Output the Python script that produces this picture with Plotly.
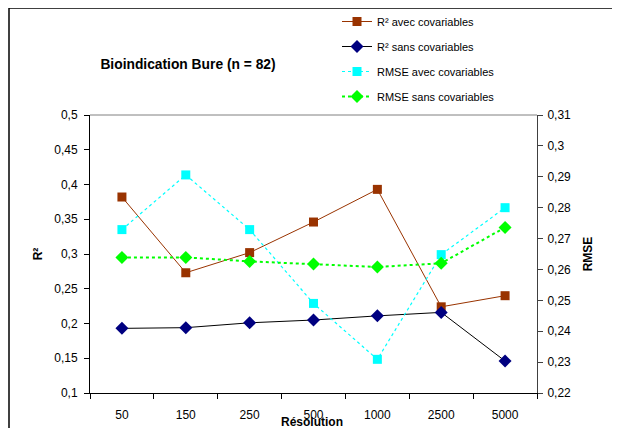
import plotly.graph_objects as go

resolutions = ["50", "150", "250", "500", "1000", "2500", "5000"]
r2_avec = [0.382, 0.273, 0.302, 0.346, 0.393, 0.224, 0.240]
r2_sans = [0.193, 0.194, 0.201, 0.205, 0.211, 0.216, 0.146]
rmse_avec = [0.2729, 0.2906, 0.2729, 0.249, 0.2309, 0.2648, 0.280]
rmse_sans = [0.2639, 0.2639, 0.2626, 0.2618, 0.2608, 0.2620, 0.2736]

FONT = "Liberation Sans, Arial, sans-serif"
W, H = 620, 428
OFF = 8  # page body margin offset
# plot area in screen (reference) pixels
SL, SR, ST, SB = 90, 537, 115, 393
L, R, T, B = SL - OFF, SR - OFF, ST - OFF, SB - OFF

def px(x):
    return (x - SL) / (SR - SL)

def py(y):
    return (SB - y) / (SB - ST)

fig = go.Figure()
fig.add_trace(go.Scatter(x=resolutions, y=r2_avec, name="R² avec covariables",
                         mode="lines+markers", legendgroup="a",
                         line=dict(color="#993300", width=1),
                         marker=dict(symbol="square", size=9, color="#993300")))
fig.add_trace(go.Scatter(x=resolutions, y=r2_sans, name="R² sans covariables",
                         mode="lines+markers", legendgroup="b",
                         line=dict(color="#000000", width=1),
                         marker=dict(symbol="diamond", size=10, color="#000080")))
fig.add_trace(go.Scatter(x=resolutions, y=rmse_avec, name="RMSE avec covariables",
                         mode="lines+markers", yaxis="y2", legendgroup="c",
                         line=dict(color="#00FFFF", width=1.2, dash="dot"),
                         marker=dict(symbol="square", size=9, color="#00FFFF")))
fig.add_trace(go.Scatter(x=resolutions, y=rmse_sans, name="RMSE sans covariables",
                         mode="lines+markers", yaxis="y2", legendgroup="d",
                         line=dict(color="#00FF00", width=2, dash="3px,3px"),
                         marker=dict(symbol="diamond", size=10, color="#00FF00")))

tickfont = dict(family=FONT, size=12, color="#000000")
fig.update_layout(
    width=W, height=H,
    margin=dict(l=L, r=W - R, t=T, b=H - B, pad=0, autoexpand=False),
    paper_bgcolor="white", plot_bgcolor="white",
    separators=", ",
    font=dict(family=FONT, size=12, color="#000000"),
    showlegend=True,
    legend=dict(x=px(337), y=py(7), xanchor="left", yanchor="top",
                font=dict(family=FONT, size=11), tracegroupgap=6,
                bgcolor="rgba(0,0,0,0)", itemwidth=30),
    xaxis=dict(type="category", range=[-0.5, 6.5], tickson="boundaries",
               ticks="outside", ticklen=5, tickcolor="#000", showline=True,
               linecolor="#000", linewidth=1, showgrid=False, zeroline=False,
               tickfont=tickfont, ticklabelstandoff=11),
    yaxis=dict(range=[0.1, 0.5], dtick=0.05, tick0=0.1, ticks="outside",
               ticklen=5, tickcolor="#000", showline=True, linecolor="#000",
               showgrid=False, zeroline=False, tickfont=tickfont,
               ticklabelstandoff=4,
               title=dict(text="<b>R²</b>", standoff=9,
                          font=dict(family=FONT, size=12))),
    yaxis2=dict(range=[0.22, 0.31], dtick=0.01, tick0=0.22, overlaying="y",
                side="right", ticks="outside", ticklen=5, tickcolor="#404040",
                showline=True, linecolor="#404040", showgrid=False,
                zeroline=False, tickfont=tickfont, ticklabelstandoff=2,
                title=dict(text="<b>RMSE</b>", standoff=13,
                           font=dict(family=FONT, size=12))),
    title=dict(text="<b>Bioindication Bure (n = 82)</b>", xref="container",
               yref="container", x=(188 - OFF) / W, y=1 - (64 - OFF) / H,
               xanchor="center", yanchor="middle",
               font=dict(family=FONT, size=13.8)),
)

fig.add_annotation(text="<b>Résolution</b>", xref="paper", yref="paper",
                   x=px(312), y=py(421.5), xanchor="center", yanchor="middle",
                   showarrow=False, font=dict(family=FONT, size=12))

fig.add_shape(type="line", xref="paper", yref="paper", x0=0, x1=1, y0=1, y1=1,
              line=dict(color="#808080", width=1))
# outer chart frame (top and left edges)
fig.add_shape(type="line", xref="paper", yref="paper", x0=px(9), x1=px(612),
              y0=py(8), y1=py(8), line=dict(color="#000", width=1.5))
fig.add_shape(type="line", xref="paper", yref="paper", x0=px(9), x1=px(9),
              y0=py(8), y1=py(440), line=dict(color="#000", width=1.5))

fig.write_html("out.html")
